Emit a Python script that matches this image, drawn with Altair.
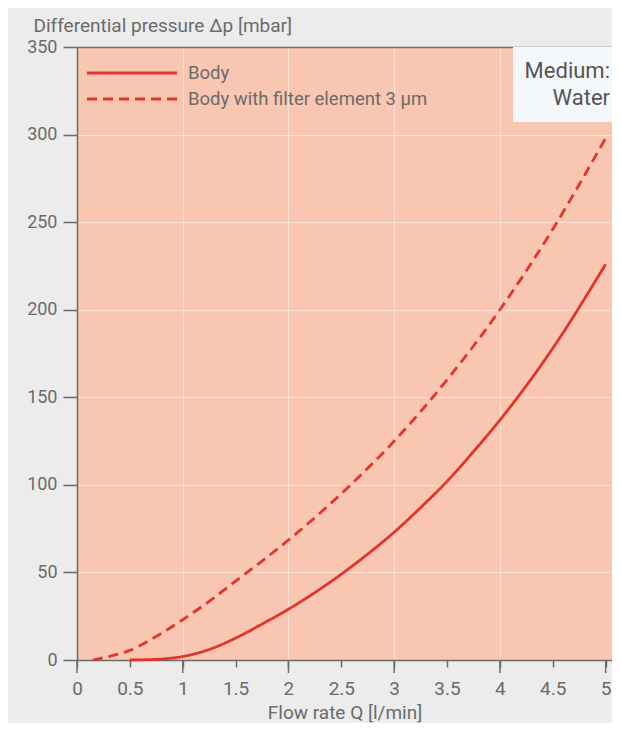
import altair as alt
import pandas as pd

# ---- data ----
body_q = [0.5, 0.75, 1.0, 1.25, 1.5, 1.75, 2.0, 2.25, 2.5, 2.75, 3.0, 3.25, 3.5, 3.75, 4.0, 4.5, 5.0]
body_dp = [0, 0.4, 2, 6, 12.5, 20.5, 29, 38.5, 49, 60.5, 73, 87, 102, 119, 137, 178, 226]

filt_q = [0.15, 0.25, 0.5, 0.75, 1.0, 1.25, 1.5, 1.75, 2.0, 2.5, 3.0, 3.5, 4.0, 4.5, 5.0]
filt_dp = [0, 1.3, 5.5, 13.5, 23, 33.5, 45, 56.5, 68.5, 95, 125, 160, 200, 246, 298]

series_names = ["Body", "Body with filter element 3 µm"]
x_ticks = [0, 0.5, 1, 1.5, 2, 2.5, 3, 3.5, 4, 4.5, 5]
x_major = [0, 1, 2, 3, 4, 5]
x_grid = [1, 2, 3, 4]
y_ticks = [0, 50, 100, 150, 200, 250, 300, 350]
note_text = "Medium:\nWater"

df = pd.concat([
    pd.DataFrame({"q": body_q, "dp": body_dp, "series": series_names[0]}),
    pd.DataFrame({"q": filt_q, "dp": filt_dp, "series": series_names[1]}),
])
legend_df = pd.DataFrame({"series": series_names})

RED = "#e3342b"
GRAY = "#6b6b6b"
FONT = "Roboto"
W, H = 535, 613

xscale = alt.Scale(domain=[0, 5.06], nice=False, zero=False)
yscale = alt.Scale(domain=[0, 350], nice=False)
dash_scale = alt.Scale(domain=series_names, range=[[1, 0], [10, 6]])
legend_row = alt.Scale(type="point", domain=series_names, range=[26, 52], padding=0)

lines = alt.Chart(df).mark_line(color=RED, strokeWidth=2.8, interpolate="monotone").encode(
    x=alt.X("q:Q", scale=xscale,
            axis=alt.Axis(values=x_ticks, grid=False, title="Flow rate Q [l/min]",
                          format="~g", tickSize=7, labelPadding=12,
                          labelFontSize=19, titleFontSize=19, titleFontWeight="normal",
                          titleBaseline="alphabetic", titleY=58, labelFlush=False)),
    y=alt.Y("dp:Q", scale=yscale,
            axis=alt.Axis(values=y_ticks, grid=True, title="Differential pressure Δp [mbar]",
                          tickSize=14, labelPadding=6, labelFontSize=18,
                          titleFontSize=19, titleFontWeight="normal", titleAngle=0,
                          titleAlign="left", titleBaseline="alphabetic",
                          titleX=-44, titleY=-16)),
    strokeDash=alt.StrokeDash("series:N", scale=dash_scale, legend=None),
)

# longer ticks at the whole numbers of the x axis
major_ticks = alt.Chart(pd.DataFrame({"q": x_major})).mark_rule(
    color=GRAY, strokeWidth=1.5).encode(
    x=alt.X("q:Q", scale=xscale, axis=None), y=alt.value(H), y2=alt.value(H + 13))

# top border + integer vertical gridlines
top = alt.Chart(pd.DataFrame({"q": x_grid})).mark_point(opacity=0).encode(
    x=alt.X("q:Q", scale=xscale,
            axis=alt.Axis(orient="top", values=x_grid, grid=True, labels=False, ticks=False,
                          title=None, domain=True)),
)

# legend drawn inside the plot
leg_lines = alt.Chart(legend_df).mark_rule(color=RED, strokeWidth=2.8).encode(
    x=alt.value(10), x2=alt.value(100),
    y=alt.Y("series:N", scale=legend_row, axis=None),
    strokeDash=alt.StrokeDash("series:N", scale=dash_scale, legend=None),
)
leg_text = alt.Chart(legend_df).mark_text(
    align="left", baseline="middle", fontSize=18.5, color=GRAY, font=FONT).encode(
    x=alt.value(111),
    y=alt.Y("series:N", scale=legend_row, axis=None),
    text="series:N",
)

note_box = alt.Chart(pd.DataFrame({"t": [note_text]})).mark_rect(color="#f5f8fb").encode(
    x=alt.value(436), x2=alt.value(W), y=alt.value(0), y2=alt.value(75))
note = alt.Chart(pd.DataFrame({"t": [note_text]})).mark_text(
    align="right", baseline="alphabetic", lineBreak="\n", lineHeight=27,
    fontSize=22, color="#555555", font=FONT).encode(
    text="t:N", x=alt.value(533), y=alt.value(31))

chart = alt.layer(top, lines, major_ticks, leg_lines, leg_text, note_box, note).resolve_axis(
    x="independent").resolve_scale(x="shared", y="independent").properties(
    width=W, height=H,
    padding={"left": 69, "top": 39, "right": 0, "bottom": 63},
    autosize=alt.AutoSizeParams(type="none"),
    background="#ececec",
).configure_view(fill="#f9c6b1", stroke=None).configure_axis(
    domainColor=GRAY, tickColor=GRAY, domainWidth=1.5, tickWidth=1.5,
    labelColor=GRAY, titleColor=GRAY, labelFont=FONT, titleFont=FONT,
    gridColor="#ffffff", gridOpacity=0.45, gridWidth=1,
)

chart.save("out.html", embed_options={"renderer": "svg", "actions": False})
